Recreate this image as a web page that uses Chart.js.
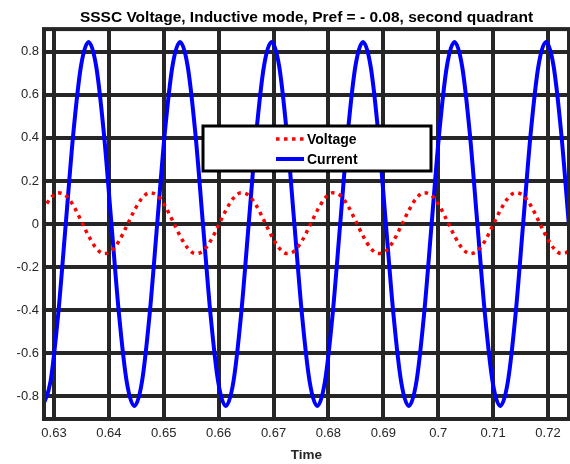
<!DOCTYPE html>
<html>
<head>
<meta charset="utf-8">
<script src="https://cdn.jsdelivr.net/npm/chart.js@4/dist/chart.umd.min.js"></script>
<style>
  html, body { margin: 0; padding: 0; background: #fff; }
  #wrap { width: 570px; height: 464px; position: relative; }
</style>
</head>
<body>
<div id="wrap"><canvas id="plot"></canvas></div>
<script>
// valores (tempo em s)
const timeSec = [
    0.62797, 0.62936, 0.63075, 0.63214, 0.63353, 0.63491, 0.63630, 0.63769, 0.63908, 0.64047, 0.64186, 0.64325,
    0.64464, 0.64603, 0.64741, 0.64880, 0.65019, 0.65158, 0.65297, 0.65436, 0.65575, 0.65714, 0.65853, 0.65991,
    0.66130, 0.66269, 0.66408, 0.66547, 0.66686, 0.66825, 0.66964, 0.67103, 0.67241, 0.67380, 0.67519, 0.67658,
    0.67797, 0.67936, 0.68075, 0.68214, 0.68353, 0.68491, 0.68630, 0.68769, 0.68908, 0.69047, 0.69186, 0.69325,
    0.69464, 0.69603, 0.69741, 0.69880, 0.70019, 0.70158, 0.70297, 0.70436, 0.70575, 0.70714, 0.70853, 0.70991,
    0.71130, 0.71269, 0.71408, 0.71547, 0.71686, 0.71825, 0.71964, 0.72103, 0.72241, 0.72380, 0.72519
];

const voltage = [
    0.063, 0.120, 0.145, 0.133, 0.086, 0.017, -0.055, -0.112, -0.137, -0.125, -0.078, -0.009,
    0.063, 0.120, 0.145, 0.133, 0.086, 0.017, -0.055, -0.112, -0.137, -0.125, -0.078, -0.009,
    0.063, 0.120, 0.145, 0.133, 0.086, 0.017, -0.055, -0.112, -0.137, -0.125, -0.078, -0.009,
    0.063, 0.120, 0.145, 0.133, 0.086, 0.017, -0.055, -0.112, -0.137, -0.125, -0.078, -0.009,
    0.063, 0.120, 0.145, 0.133, 0.086, 0.017, -0.055, -0.112, -0.137, -0.125, -0.078, -0.009,
    0.063, 0.120, 0.145, 0.133, 0.086, 0.017, -0.055, -0.112, -0.137, -0.125, -0.078
];

const current = [
    -0.845, -0.732, -0.423, 0, 0.423, 0.732, 0.845, 0.732, 0.423, 0, -0.423, -0.732,
    -0.845, -0.732, -0.423, 0, 0.423, 0.732, 0.845, 0.732, 0.423, 0, -0.423, -0.732,
    -0.845, -0.732, -0.423, 0, 0.423, 0.732, 0.845, 0.732, 0.423, 0, -0.423, -0.732,
    -0.845, -0.732, -0.423, 0, 0.423, 0.732, 0.845, 0.732, 0.423, 0, -0.423, -0.732,
    -0.845, -0.732, -0.423, 0, 0.423, 0.732, 0.845, 0.732, 0.423, 0, -0.423, -0.732,
    -0.845, -0.732, -0.423, 0, 0.423, 0.732, 0.845, 0.732, 0.423, 0, -0.423
];

const xTicks = [0.63, 0.64, 0.65, 0.66, 0.67, 0.68, 0.69, 0.70, 0.71, 0.72];
const xTickLabels = ['0.63', '0.64', '0.65', '0.66', '0.67', '0.68', '0.69', '0.7', '0.71', '0.72'];
const yTicks = [-0.8, -0.6, -0.4, -0.2, 0, 0.2, 0.4, 0.6, 0.8];
const yTickLabels = ['-0.8', '-0.6', '-0.4', '-0.2', '0', '0.2', '0.4', '0.6', '0.8'];

const FONT = "'Liberation Sans', Arial, Helvetica, sans-serif";
const GRID = '#262626';

// moldura + legenda no estilo MATLAB
const matlabBox = {
    id: 'matlabBox',
    afterDatasetsDraw(chart) {
        const { ctx, chartArea: a } = chart;
        ctx.save();
        ctx.strokeStyle = GRID;
        ctx.lineWidth = 4;
        ctx.strokeRect(a.left, a.top, a.right - a.left, a.bottom - a.top);

        // legenda
        const bx = 203, by = 126, bw = 228, bh = 45;
        ctx.fillStyle = '#fff';
        ctx.fillRect(bx, by, bw, bh);
        ctx.strokeStyle = '#000';
        ctx.lineWidth = 3;
        ctx.strokeRect(bx, by, bw, bh);

        const rows = chart.data.datasets;
        rows.forEach((ds, i) => {
            const y = 139 + i * 20;
            ctx.beginPath();
            ctx.strokeStyle = ds.borderColor;
            ctx.lineWidth = ds.borderWidth;
            ctx.setLineDash(ds.borderDash || []);
            ctx.moveTo(276, y);
            ctx.lineTo(304, y);
            ctx.stroke();
            ctx.setLineDash([]);
            ctx.fillStyle = '#000';
            ctx.font = 'bold 14px ' + FONT;
            ctx.textBaseline = 'middle';
            ctx.textAlign = 'left';
            ctx.fillText(ds.label, 307, y + 1);
        });
        ctx.restore();
    }
};

new Chart(document.getElementById('plot'), {
    type: 'line',
    data: {
        datasets: [
            {
                label: 'Voltage',
                data: timeSec.map((t, i) => ({ x: t, y: voltage[i] })),
                borderColor: '#ff0000',
                borderWidth: 3.5,
                borderDash: [3.5, 4.5],
                pointRadius: 0,
                cubicInterpolationMode: 'monotone',
                fill: false
            },
            {
                label: 'Current',
                data: timeSec.map((t, i) => ({ x: t, y: current[i] })),
                borderColor: '#0000ff',
                borderWidth: 4,
                pointRadius: 0,
                cubicInterpolationMode: 'monotone',
                fill: false
            }
        ]
    },
    options: {
        responsive: true,
        maintainAspectRatio: false,
        animation: false,
        layout: { padding: { left: 0, right: 1, top: 0, bottom: 0 } },
        plugins: {
            legend: { display: false },
            tooltip: { enabled: false },
            title: {
                display: true,
                fullSize: false,
                text: 'SSSC Voltage, Inductive mode, Pref = - 0.08, second quadrant',
                color: '#000',
                font: { family: FONT, size: 15.5, weight: 'bold' },
                padding: { top: 8.5, bottom: 2 }
            }
        },
        scales: {
            x: {
                type: 'linear',
                min: 0.62818,
                max: 0.72383,
                afterBuildTicks: (s) => { s.ticks = xTicks.map(v => ({ value: v })); },
                afterFit: (s) => { s.height = 45; },
                grid: { color: GRID, lineWidth: 4, drawTicks: false },
                border: { display: false },
                ticks: {
                    color: '#262626',
                    font: { family: FONT, size: 13 },
                    padding: 7,
                    maxRotation: 0,
                    autoSkip: false,
                    callback: (v, i) => xTickLabels[i]
                },
                title: {
                    display: true,
                    text: 'Time',
                    color: '#262626',
                    font: { family: FONT, size: 13.5, weight: 'bold' },
                    padding: { top: 0, bottom: 1 }
                }
            },
            y: {
                min: -0.905,
                max: 0.905,
                afterBuildTicks: (s) => { s.ticks = yTicks.map(v => ({ value: v })); },
                afterFit: (s) => { s.width = 44; },
                grid: { color: GRID, lineWidth: 4, drawTicks: false },
                border: { display: false },
                ticks: {
                    color: '#262626',
                    font: { family: FONT, size: 13 },
                    padding: 5,
                    autoSkip: false,
                    callback: (v, i) => yTickLabels[i]
                }
            }
        }
    },
    plugins: [matlabBox]
});
</script>
</body>
</html>
